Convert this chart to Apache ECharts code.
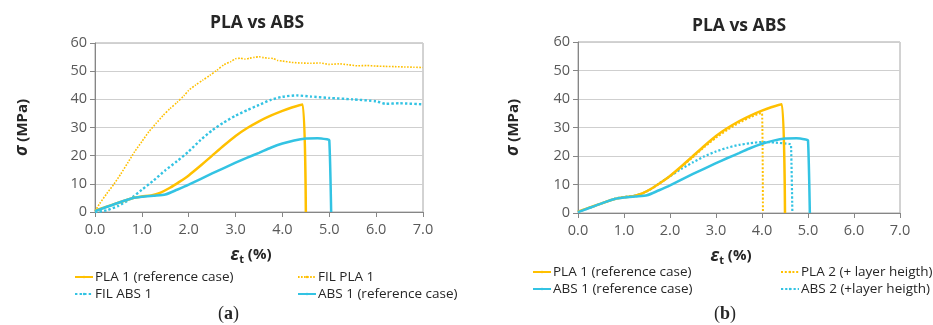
<!DOCTYPE html>
<html>
<head>
<meta charset="utf-8">
<script src="https://cdn.jsdelivr.net/npm/echarts@6/dist/echarts.min.js"></script>
<style>
	html, body { margin: 0; padding: 0; background: #fff; }
	#chart { width: 933px; height: 325px; }
</style>
</head>
<body>
<div id="chart"></div>
<script>
/* Data: strain (%) and stress (MPa) */
const pla1Strain = [0, 0.2, 0.5, 0.8, 1.0, 1.2, 1.4, 1.6, 1.8, 2.0, 2.25, 2.5, 2.75, 3.0, 3.25, 3.5, 3.75, 4.0, 4.2, 4.43, 4.5];
const pla1Stress = [0.5, 1.6, 3.3, 4.9, 5.5, 5.9, 6.9, 8.6, 10.7, 13.0, 16.4, 20.0, 23.6, 27.0, 29.8, 32.2, 34.2, 35.9, 37.1, 38.2, 0];

const abs1Strain = [0, 0.2, 0.5, 0.8, 1.0, 1.25, 1.5, 1.75, 2.0, 2.5, 3.0, 3.25, 3.5, 3.75, 4.0, 4.25, 4.5, 4.75, 4.95, 5.0, 5.04];
const abs1Stress = [0.3, 1.5, 3.3, 4.9, 5.4, 5.8, 6.2, 7.9, 9.7, 13.7, 17.5, 19.3, 21.0, 22.8, 24.3, 25.4, 26.1, 26.2, 25.8, 25.5, 0];

const filPla1Strain = [0, 0.1, 0.25, 0.4, 0.55, 0.7, 0.85, 1.0, 1.15, 1.3, 1.45, 1.6, 1.75, 1.9, 2.0, 2.15, 2.3, 2.45, 2.6, 2.75, 2.9, 3.0, 3.1, 3.2, 3.3, 3.4, 3.5, 3.6, 3.7, 3.8, 3.9, 4.0, 4.2, 4.4, 4.6, 4.8, 5.0, 5.2, 5.4, 5.6, 5.8, 6.0, 6.2, 6.4, 6.6, 6.8, 7.0];
const filPla1Stress = [0.3, 3, 6.5, 9.8, 13.5, 17.5, 21.5, 25, 28.5, 31.4, 34.2, 36.7, 38.9, 41.3, 43.2, 45.1, 46.8, 48.5, 50.3, 52.3, 53.4, 54.4, 54.6, 54.3, 54.6, 54.9, 55.1, 54.8, 54.6, 54.5, 53.8, 53.6, 53.1, 52.9, 52.8, 52.9, 52.4, 52.6, 52.3, 51.9, 52.0, 51.8, 51.7, 51.6, 51.5, 51.4, 51.3];

const filAbs1Strain = [0, 0.25, 0.5, 0.75, 1.0, 1.25, 1.5, 1.75, 2.0, 2.25, 2.5, 2.75, 3.0, 3.25, 3.5, 3.75, 4.0, 4.3, 4.6, 5.0, 5.5, 6.0, 6.2, 6.5, 7.0];
const filAbs1Stress = [0, 0.6, 2.2, 4.6, 7.9, 11.2, 14.8, 18.0, 21.5, 25.5, 29.0, 31.8, 34.2, 36.2, 38.0, 39.8, 40.9, 41.4, 41.0, 40.5, 40.0, 39.3, 38.4, 38.6, 38.2];

const pla2Strain = [0, 0.2, 0.5, 0.8, 1.0, 1.2, 1.4, 1.6, 1.8, 2.0, 2.25, 2.5, 2.75, 3.0, 3.25, 3.5, 3.75, 3.95, 4.0, 4.02];
const pla2Stress = [0.5, 1.6, 3.3, 5.0, 5.7, 6.0, 6.9, 8.6, 10.7, 13.0, 16.2, 19.6, 23.2, 26.4, 29.2, 31.6, 33.6, 34.9, 35.0, 0];

const abs2Strain = [0, 0.2, 0.5, 0.8, 1.0, 1.2, 1.4, 1.6, 1.8, 2.0, 2.25, 2.5, 2.75, 3.0, 3.25, 3.5, 3.75, 4.0, 4.3, 4.6, 4.63, 4.66];
const abs2Stress = [0.4, 1.5, 3.3, 5.0, 5.6, 6.0, 6.9, 8.5, 10.8, 12.9, 15.5, 17.8, 19.9, 21.6, 22.9, 23.9, 24.5, 24.9, 24.7, 24.2, 24.0, 0];

const xTicks = [0, 1, 2, 3, 4, 5, 6, 7];
const yTicks = [0, 10, 20, 30, 40, 50, 60];

const chartTitle = "PLA vs ABS";
const panelLabels = ["a", "b"];

/* Styling */
const ORANGE = "#FFC000";
const BLUE = "#33C3E3";
const FONT = "Open Sans";
const TEXT = "#595959";
const DARK = "#262626";

function zip(xs, ys) {
	return xs.map((x, i) => [x, ys[i]]);
}

const xAxis_default = (gridIndex) => ({
	type: "value",
	gridIndex: gridIndex,
	min: xTicks[0],
	max: xTicks[xTicks.length - 1],
	interval: 1,
	name: "{e|ε}{s|t}{p| (%)}",
	nameLocation: "middle",
	nameGap: 33,
	nameTextStyle: {
		padding: [0, 16, 0, 0],
		rich: {
			e: { fontFamily: FONT, fontSize: 17, fontStyle: "italic", fontWeight: "bold", color: DARK },
			s: { fontFamily: FONT, fontSize: 11, fontWeight: "bold", color: DARK, padding: [9, 0, 0, 0] },
			p: { fontFamily: FONT, fontSize: 15, fontWeight: "bold", color: DARK },
		},
	},
	axisLine: { lineStyle: { color: "#868686", width: 1 } },
	axisTick: { show: true, length: 5, lineStyle: { color: "#868686" } },
	axisLabel: {
		margin: 10,
		fontFamily: FONT,
		fontSize: 14.5,
		color: TEXT,
		formatter: (v) => v.toFixed(1),
	},
	splitLine: { show: false },
});

const yAxis_default = (gridIndex, nameGap) => ({
	type: "value",
	gridIndex: gridIndex,
	min: yTicks[0],
	max: yTicks[yTicks.length - 1],
	interval: 10,
	name: "{s|σ}{p| (MPa)}",
	nameLocation: "middle",
	nameGap: nameGap,
	nameTextStyle: {
		rich: {
			s: { fontFamily: FONT, fontSize: 17, fontStyle: "italic", fontWeight: "bold", color: DARK },
			p: { fontFamily: FONT, fontSize: 15, fontWeight: "bold", color: DARK },
		},
	},
	axisLine: { show: true, lineStyle: { color: "#868686", width: 1 } },
	axisTick: { show: true, length: 5, lineStyle: { color: "#868686" } },
	axisLabel: { margin: 8, fontFamily: FONT, fontSize: 14.5, color: TEXT },
	splitLine: { lineStyle: { color: "#cfcfcf", width: 1 } },
});

const solid = (color) => ({ color: color, width: 2.5, type: "solid" });
const dotted = (color, w) => ({ color: color, width: w, type: [w, w * 0.9], cap: "butt" });

function lineSeries(name, gridIndex, data, lineStyle) {
	return {
		name: name,
		type: "line",
		xAxisIndex: gridIndex,
		yAxisIndex: gridIndex,
		data: data,
		showSymbol: false,
		symbol: "none",
		smooth: 0.2,
		lineStyle: lineStyle,
		itemStyle: { color: lineStyle.color },
		animation: false,
	};
}

function legendItem(name, left, top) {
	return {
		data: [name],
		left: left,
		top: top,
		padding: 0,
		itemWidth: 18,
		itemHeight: 3,
		selectedMode: false,
		textStyle: { fontFamily: FONT, fontSize: 13.5, color: DARK, padding: [0, 0, 0, -3] },
	};
}

const series = [
	/* (a) */
	lineSeries("FIL PLA 1", 0, zip(filPla1Strain, filPla1Stress), dotted(ORANGE, 1.6)),
	lineSeries("FIL ABS 1", 0, zip(filAbs1Strain, filAbs1Stress), dotted(BLUE, 2.4)),
	lineSeries("PLA 1 (reference case)", 0, zip(pla1Strain, pla1Stress), solid(ORANGE)),
	lineSeries("ABS 1 (reference case)", 0, zip(abs1Strain, abs1Stress), solid(BLUE)),
	/* (b) */
	lineSeries("PLA 2 (+ layer heigth)", 1, zip(pla2Strain, pla2Stress), dotted(ORANGE, 2)),
	lineSeries("ABS 2 (+layer heigth)", 1, zip(abs2Strain, abs2Stress), dotted(BLUE, 2.2)),
	lineSeries("PLA 1 (reference case)", 1, zip(pla1Strain, pla1Stress), solid(ORANGE)),
	lineSeries("ABS 1 (reference case)", 1, zip(abs1Strain, abs1Stress), solid(BLUE)),
];

const titleStyle = { fontFamily: FONT, fontSize: 17.5, fontWeight: "bold", color: DARK };

const option = {
	backgroundColor: "#fff",
	title: [
		{ text: chartTitle, left: 252, top: 9, textAlign: "center", textStyle: titleStyle },
		{ text: chartTitle, left: 734, top: 12, textAlign: "center", textStyle: titleStyle },
	],
	grid: [
		{ left: 95, top: 43, right: 510, bottom: 113, show: true, borderColor: "#a6a6a6", borderWidth: 1 },
		{ left: 578, top: 42, right: 33, bottom: 112, show: true, borderColor: "#a6a6a6", borderWidth: 1 },
	],
	xAxis: [xAxis_default(0), xAxis_default(1)],
	yAxis: [yAxis_default(0, 64), yAxis_default(1, 56)],
	legend: [
		legendItem("PLA 1 (reference case)", 74, 270),
		legendItem("FIL PLA 1", 297, 270),
		legendItem("FIL ABS 1", 74, 287),
		legendItem("ABS 1 (reference case)", 297, 287),
		legendItem("PLA 1 (reference case)", 532, 265),
		legendItem("PLA 2 (+ layer heigth)", 780, 265),
		legendItem("ABS 1 (reference case)", 532, 282),
		legendItem("ABS 2 (+layer heigth)", 780, 282),
	],
	graphic: panelLabels.map((p, i) => ({
		type: "text",
		left: i === 0 ? 218 : 714,
		top: 305,
		style: {
			text: "{n|(}{b|" + p + "}{n|)}",
			rich: {
				n: { fontFamily: "Liberation Serif", fontSize: 18, fill: DARK },
				b: { fontFamily: "Liberation Serif", fontSize: 18, fontWeight: "bold", fill: DARK },
			},
		},
	})),
	series: series,
};

const myChart = echarts.init(document.getElementById("chart"));
myChart.setOption(option);
</script>
</body>
</html>
